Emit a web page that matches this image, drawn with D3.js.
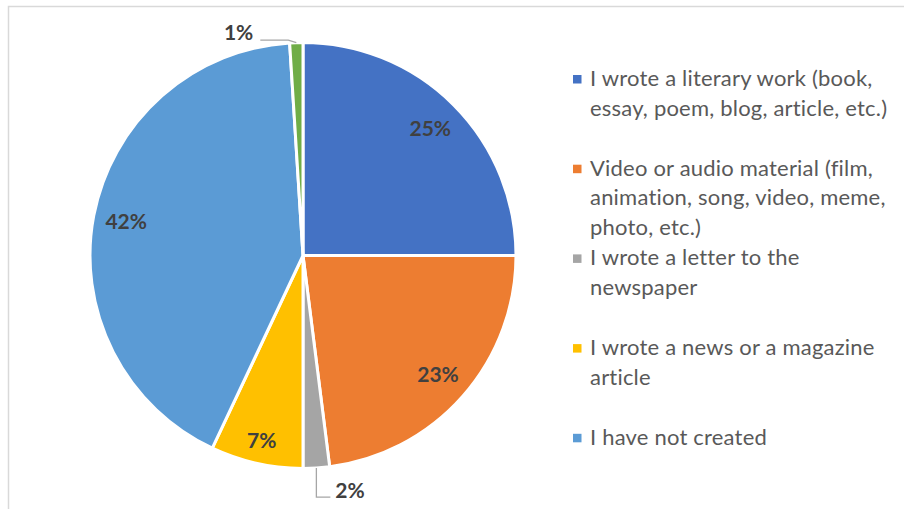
<!DOCTYPE html>
<html>
<head>
<meta charset="utf-8">
<script src="https://cdn.jsdelivr.net/npm/d3@7"></script>
<style>
  html, body { margin: 0; padding: 0; background: #fff; }
  svg { display: block; }
</style>
</head>
<body>
<svg id="chart" width="904" height="509"></svg>
<script>
// Survey answers: what respondents have created
const categories = [
  "I wrote a literary work (book,\nessay, poem, blog, article, etc.)",
  "Video or audio material (film,\nanimation, song, video, meme,\nphoto, etc.)",
  "I wrote a letter to the\nnewspaper",
  "I wrote a news or a magazine\narticle",
  "I have not created",
  "Other"
];
const shares = [25, 23, 2, 7, 42, 1];
const sliceColors = ["#4472C4", "#ED7D31", "#A5A5A5", "#FFC000", "#5B9BD5", "#70AD47"];
// the legend lists the first five answers only
const legendCount = 5;

const data = categories.map((c, i) => ({ category: c, value: shares[i], color: sliceColors[i] }));

const W = 904, H = 509;
const svg = d3.select("#chart");

// chart frame (runs off the right and bottom edges)
svg.append("rect")
  .attr("x", 8.5).attr("y", 6.5)
  .attr("width", W + 20).attr("height", H + 20)
  .attr("fill", "#fff")
  .attr("stroke", "#d9d9d9")
  .attr("stroke-width", 1.5);

const cx = 303, cy = 255.5, R = 213;

const pie = d3.pie().sort(null).value(d => d.value).startAngle(0).endAngle(2 * Math.PI);
const arcs = pie(data);
const arc = d3.arc().innerRadius(0).outerRadius(R);

const g = svg.append("g").attr("transform", `translate(${cx},${cy})`);

g.selectAll("path.slice")
  .data(arcs)
  .join("path")
  .attr("class", "slice")
  .attr("d", arc)
  .attr("fill", d => d.data.color)
  .attr("stroke", "#fff")
  .attr("stroke-width", 3)
  .attr("stroke-linejoin", "round");

const polar = (rad, a) => [rad * Math.sin(a), -rad * Math.cos(a)];
const fmt = v => v + "%";

const labelFont = "Lato, 'Open Sans', sans-serif";

arcs.forEach(d => {
  const mid = (d.startAngle + d.endAngle) / 2;
  const span = d.endAngle - d.startAngle;
  if (d.data.value >= 5) {
    // inside labels; narrow slices push their label further out
    const rr = span < Math.PI / 6 ? R * 0.89 : R * 0.845;
    const [x, y] = polar(rr, mid);
    g.append("text")
      .attr("x", x).attr("y", y)
      .attr("dy", "0.36em")
      .attr("text-anchor", "middle")
      .attr("font-family", labelFont)
      .attr("font-weight", "bold")
      .attr("font-size", 21)
      .attr("fill", "#404040")
      .text(fmt(d.data.value));
  } else {
    // small slices get an outside label with a leader line
    const [ex, ey] = polar(R, mid);
    let pts, tx, ty, anchor;
    if (Math.cos(mid) > 0) {
      // top of the pie: go up-left, then run left
      const bx = ex - 8, by = ey - 2.5;
      pts = [[ex, ey], [bx, by], [bx - 28, by]];
      tx = bx - 35; ty = by - 0.5; anchor = "end";
    } else {
      // bottom of the pie: drop down, then run right
      const by = ey + 29;
      pts = [[ex, ey], [ex, by], [ex + 14, by]];
      tx = ex + 19; ty = by + 1; anchor = "start";
    }
    g.append("path")
      .attr("d", d3.line()(pts))
      .attr("fill", "none")
      .attr("stroke", "#a6a6a6")
      .attr("stroke-width", 1.3);
    g.append("text")
      .attr("x", tx).attr("y", ty)
      .attr("text-anchor", anchor)
      .attr("font-family", labelFont)
      .attr("font-weight", "bold")
      .attr("font-size", 21)
      .attr("fill", "#404040")
      .text(fmt(d.data.value));
  }
});

// legend
const legendX = 573, legendTextX = 590, legendTop = 86, itemStep = 89.7, lineStep = 29.7;
const legend = svg.append("g");
data.slice(0, legendCount).forEach((d, i) => {
  const base = legendTop + i * itemStep;
  legend.append("rect")
    .attr("x", legendX).attr("y", base - 11)
    .attr("width", 8.5).attr("height", 8.5)
    .attr("fill", d.color);
  const t = legend.append("text")
    .attr("font-family", "Lato, 'Open Sans', sans-serif")
    .attr("font-size", 22)
    .attr("letter-spacing", 0.2)
    .attr("fill", "#595959");
  d.category.split("\n").forEach((line, j) => {
    t.append("tspan")
      .attr("x", legendTextX)
      .attr("y", base + j * lineStep)
      .text(line);
  });
});
</script>
</body>
</html>
